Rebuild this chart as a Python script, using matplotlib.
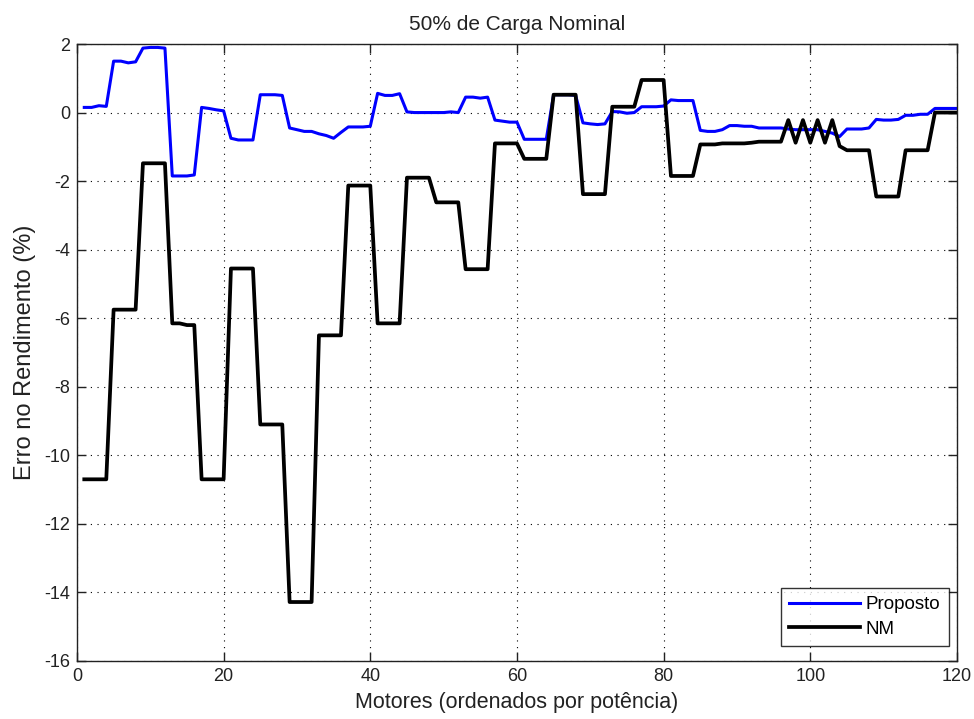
import matplotlib
matplotlib.use("Agg")
import matplotlib.pyplot as plt
import numpy as np

plt.rcParams['font.family'] = ['Liberation Sans', 'DejaVu Sans']
plt.rcParams['axes.unicode_minus'] = False

motores = list(range(1, 121))

proposto = [
    0.15, 0.15, 0.20, 0.18,          # 1-4
    1.50, 1.50, 1.45, 1.48,          # 5-8
    1.88, 1.90, 1.90, 1.88,          # 9-12
    -1.85, -1.85, -1.85, -1.82,      # 13-16
    0.15, 0.12, 0.08, 0.05,          # 17-20
    -0.75, -0.80, -0.80, -0.80,      # 21-24
    0.52, 0.52, 0.52, 0.50,          # 25-28
    -0.45, -0.50, -0.55, -0.55,      # 29-32
    -0.62, -0.67, -0.75, -0.58,      # 33-36
    -0.42, -0.42, -0.42, -0.40,      # 37-40
    0.56, 0.50, 0.50, 0.55,          # 41-44
    0.02, 0.00, 0.00, 0.00,          # 45-48
    0.00, 0.00, 0.02, 0.00,          # 49-52
    0.45, 0.45, 0.42, 0.45,          # 53-56
    -0.22, -0.25, -0.28, -0.28,      # 57-60
    -0.78, -0.78, -0.78, -0.78,      # 61-64
    0.52, 0.52, 0.52, 0.50,          # 65-68
    -0.30, -0.33, -0.35, -0.33,      # 69-72
    0.03, 0.02, -0.02, 0.00,         # 73-76
    0.17, 0.17, 0.17, 0.19,          # 77-80
    0.37, 0.35, 0.35, 0.35,          # 81-84
    -0.52, -0.55, -0.55, -0.50,      # 85-88
    -0.38, -0.38, -0.40, -0.40,      # 89-92
    -0.45, -0.45, -0.45, -0.45,      # 93-96
    -0.48, -0.50, -0.50, -0.50,      # 97-100
    -0.50, -0.55, -0.60, -0.70,      # 101-104
    -0.48, -0.48, -0.48, -0.45,      # 105-108
    -0.20, -0.22, -0.22, -0.20,      # 109-112
    -0.08, -0.08, -0.05, -0.05,      # 113-116
    0.12, 0.12, 0.12, 0.12,          # 117-120
]

nm = [
    -10.70, -10.70, -10.70, -10.70,  # 1-4
    -5.75, -5.75, -5.75, -5.75,      # 5-8
    -1.48, -1.48, -1.48, -1.48,      # 9-12
    -6.15, -6.15, -6.20, -6.20,      # 13-16
    -10.70, -10.70, -10.70, -10.70,  # 17-20
    -4.55, -4.55, -4.55, -4.55,      # 21-24
    -9.10, -9.10, -9.10, -9.10,      # 25-28
    -14.28, -14.28, -14.28, -14.28,  # 29-32
    -6.50, -6.50, -6.50, -6.50,      # 33-36
    -2.13, -2.13, -2.13, -2.13,      # 37-40
    -6.15, -6.15, -6.15, -6.15,      # 41-44
    -1.90, -1.90, -1.90, -1.90,      # 45-48
    -2.62, -2.62, -2.62, -2.62,      # 49-52
    -4.57, -4.57, -4.57, -4.57,      # 53-56
    -0.90, -0.90, -0.90, -0.90,      # 57-60
    -1.35, -1.35, -1.35, -1.35,      # 61-64
    0.52, 0.52, 0.52, 0.52,          # 65-68
    -2.38, -2.38, -2.38, -2.38,      # 69-72
    0.17, 0.17, 0.17, 0.17,          # 73-76
    0.95, 0.95, 0.95, 0.95,          # 77-80
    -1.85, -1.85, -1.85, -1.85,      # 81-84
    -0.93, -0.93, -0.93, -0.90,      # 85-88
    -0.90, -0.90, -0.90, -0.88,      # 89-92
    -0.85, -0.85, -0.85, -0.85,      # 93-96
    -0.22, -0.88, -0.22, -0.88,      # 97-100
    -0.22, -0.88, -0.22, -0.98,      # 101-104
    -1.10, -1.10, -1.10, -1.10,      # 105-108
    -2.45, -2.45, -2.45, -2.45,      # 109-112
    -1.10, -1.10, -1.10, -1.10,      # 113-116
    0.00, 0.00, 0.00, 0.00,          # 117-120
]

xticks = [0, 20, 40, 60, 80, 100, 120]
yticks = [-16, -14, -12, -10, -8, -6, -4, -2, 0, 2]

fig = plt.figure(figsize=(9.74, 7.19), dpi=100)
ax = fig.add_axes([0.079, 0.0807, 0.9035, 0.8581])

ax.plot(motores, proposto, color='#0000FF', lw=2.2, label='Proposto')
ax.plot(motores, nm, color='black', lw=2.7, label='NM')

ax.set_xlim(0, 120)
ax.set_ylim(-16, 2)
ax.set_xticks(xticks)
ax.set_yticks(yticks)
ax.grid(True, linestyle=(0, (1, 5)), color='black', lw=0.8)
ax.tick_params(direction='in', top=True, right=True, length=6.5, width=1.0,
               labelsize=13, pad=5, colors='#222222')
for s in ax.spines.values():
    s.set_linewidth(1.0)
    s.set_color('#222222')

ax.set_title('50% de Carga Nominal', fontsize=15, pad=10, color='#222222')
ax.set_xlabel('Motores (ordenados por potência)', fontsize=15.5, labelpad=5,
              color='#222222')
ax.set_ylabel('Erro no Rendimento (%)', fontsize=17, labelpad=6,
              color='#222222')

leg = ax.legend(loc='lower right', bbox_to_anchor=(0.991, 0.024),
                borderaxespad=0, fontsize=13.5, frameon=True, fancybox=False,
                edgecolor='black', handlelength=3.8, handletextpad=0.3,
                borderpad=0.45, labelspacing=0.4)
leg.get_frame().set_linewidth(1.0)

fig.savefig('out.png', dpi=100)
